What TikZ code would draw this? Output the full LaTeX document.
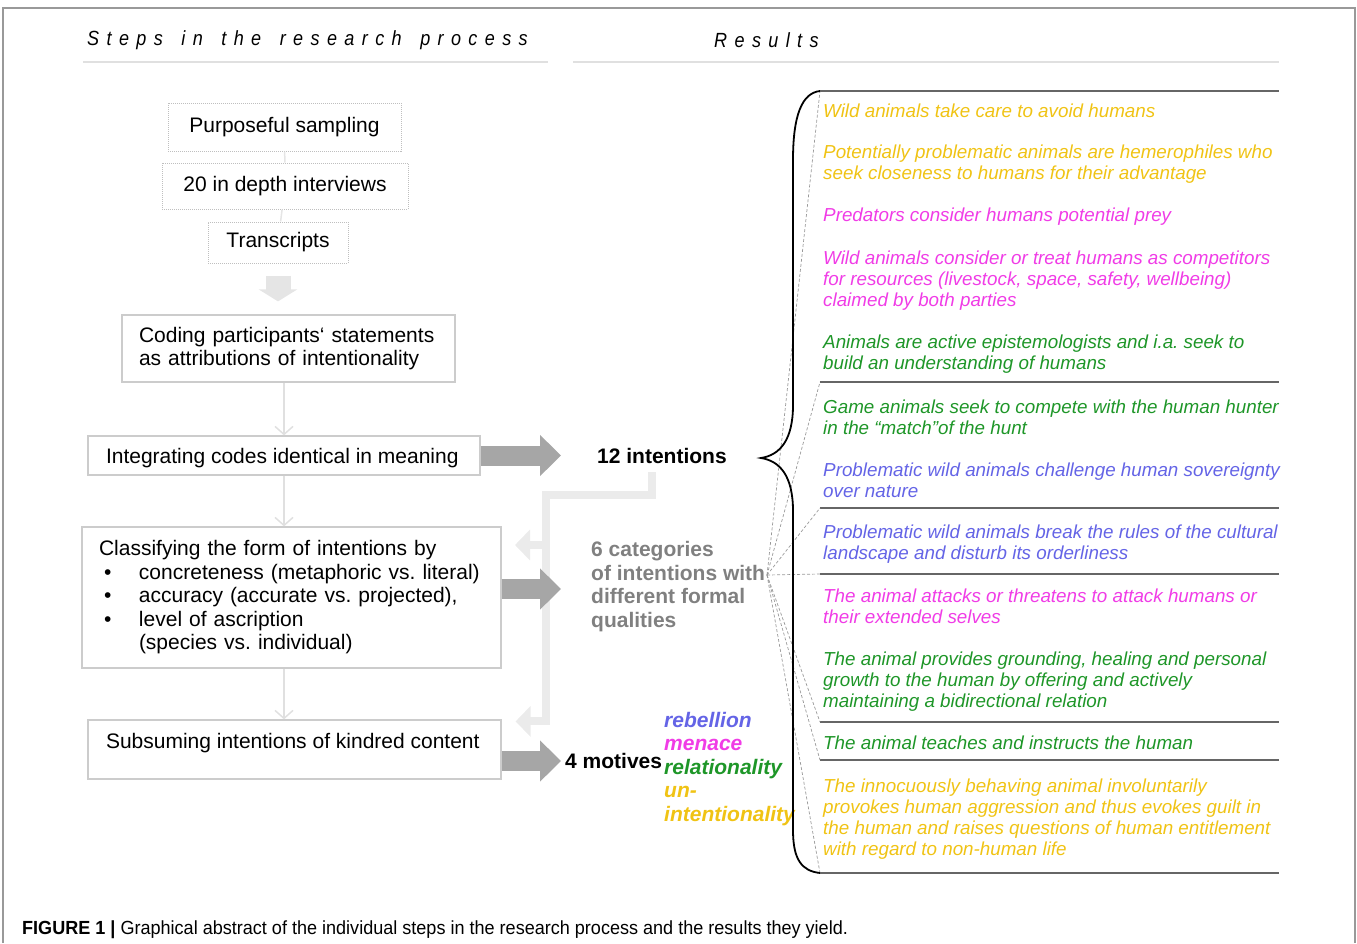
\documentclass[tikz,border=0pt]{standalone}
\usepackage{fontspec}
\setmainfont{Liberation Sans}
\newfontfamily\headfont[FakeStretch=0.88,LetterSpace=36,WordSpace=1.5]{Liberation Sans}
\newfontfamily\capfont[FakeStretch=0.95]{Liberation Sans}
\usetikzlibrary{arrows.meta}

\definecolor{motivblue}{RGB}{100,100,230}
\definecolor{motivpink}{RGB}{240,60,230}
\definecolor{motivgreen}{RGB}{30,150,40}
\definecolor{motivgold}{RGB}{240,195,20}

\begin{document}
\frenchspacing
\begin{tikzpicture}[x=1pt, y=-1pt]

% Set the overall size of the figure
\useasboundingbox (0,0) rectangle (1357,943);

% Define styles for boxes and arrows
\tikzstyle{dotbox} = [draw=black!25, densely dotted, line width=1pt, inner sep=0pt, font=\fontsize{21}{23.5}\selectfont]
\tikzstyle{stepbox} = [draw=black!20, line width=1.2pt, align=left, inner xsep=17pt, font=\fontsize{21}{23.5}\selectfont]
\tikzstyle{bigarrow} = [draw=black!35, line width=20pt, -{Triangle[length=21pt, width=40pt]}]
\tikzstyle{lightarrow} = [draw=black!10, line width=25pt, -{Triangle[length=12pt, width=38pt]}]
\tikzstyle{thinarrow} = [draw=black!12, line width=1.5pt, -{Straight Barb[length=8pt, width=18pt]}]
\tikzstyle{feedback} = [draw=black!8, line width=8pt]

% Define styles for the texts of the results
\tikzstyle{midtext} = [anchor=west, align=left, inner sep=0pt, font=\fontsize{21}{23.5}\selectfont\bfseries]
\tikzstyle{resulttext} = [anchor=west, align=left, inner sep=0pt, font=\fontsize{18.8}{21}\selectfont\itshape]
\tikzstyle{sepline} = [draw=black!60, line width=2pt]
\tikzstyle{fanline} = [draw=black!40, line width=0.7pt, dash pattern=on 3pt off 2pt]

% Frame and headings
\draw[black!40, line width=1.5pt] (3,943) -- (3,8) -- (1355,8) -- (1355,943);
\node[anchor=west, inner sep=0pt, font=\headfont\itshape\fontsize{20.5}{24}\selectfont] (stepshead) at (87,40) {Steps in the research process};
\node[anchor=west, inner sep=0pt, font=\headfont\itshape\fontsize{20.5}{24}\selectfont] (resultshead) at (714,40) {Results};
\draw[black!12, line width=1.5pt] (83,62) -- (548,62);
\draw[black!12, line width=1.5pt] (573,62) -- (1279,62);

% Steps
\node[dotbox, minimum width=233pt, minimum height=48pt] (sampling) at (284.5,127) {Purposeful sampling};
\node[dotbox, minimum width=246pt, minimum height=46pt] (interviews) at (285,186) {20 in depth interviews};
\node[dotbox, minimum width=140pt, minimum height=41pt] (transcripts) at (278,242.5) {Transcripts};
\node[stepbox, text width=299pt, minimum height=67pt] (coding) at (288.5,348.5) {Coding participants‘ statements\\as attributions of intentionality};
\node[stepbox, inner xsep=18pt, inner ysep=10pt, text height=17pt, text depth=2pt] (integrating) at (284,455.5) {\makebox[356pt][l]{Integrating codes identical in meaning}};
\node[stepbox, text width=385pt, minimum height=141pt] (classifying) at (291.5,597.5) {Classifying the form of intentions by\\
  \makebox[40pt][l]{\hspace{5pt}\textbullet}concreteness (metaphoric vs. literal)\\
  \makebox[40pt][l]{\hspace{5pt}\textbullet}accuracy (accurate vs. projected),\\
  \makebox[40pt][l]{\hspace{5pt}\textbullet}level of ascription\\
  \hspace*{40pt}(species vs. individual)};
\node[stepbox, inner xsep=18pt, inner ysep=7pt, text height=21pt, text depth=24pt] (subsuming) at (294.5,749.5) {\makebox[377pt][l]{Subsuming intentions of kindred content}};

% Results in the middle
\node[midtext] (twelve) at (597,456) {12 intentions};
\node[midtext, text=black!50] (sixcat) at (591,586.5) {6 categories\\of intentions with\\different formal\\qualities};
\node[midtext] (motives) at (565,761) {4 motives};
\node[midtext, font=\fontsize{21}{23.5}\selectfont\bfseries\itshape] (motivewords) at (664,769) {\textcolor{motivblue}{rebellion}\\\textcolor{motivpink}{menace}\\\textcolor{motivgreen}{relationality}\\\textcolor{motivgold}{un-}\\\textcolor{motivgold}{intentionality}};

% Feedback from the results to the steps
\coordinate (fbturn) at (546,495);
\coordinate (fbfork) at (546,545);
\draw[feedback, -{Triangle[length=15pt, width=30pt]}] ([xshift=-10pt, yshift=-8pt]twelve.south) |- (fbturn) |- ([xshift=14pt, yshift=-2pt]subsuming.north east);
\draw[feedback, -{Triangle[length=15pt, width=30pt]}] (fbfork) -- +(-31,0);

% Arrows between the steps
\draw[black!10, line width=1.5pt] (sampling) -- (interviews);
\draw[black!10, line width=1.5pt] (interviews) -- (transcripts);
\draw[lightarrow, shorten <=12pt, shorten >=13pt] (transcripts.south) -- (transcripts.south |- coding.north);
\draw[thinarrow] (integrating.north |- coding.south) -- (integrating.north);
\draw[thinarrow] (integrating.south) -- (integrating.south |- classifying.north);
\draw[thinarrow] (integrating.south |- classifying.south) -- (integrating.south |- subsuming.north);
\draw[bigarrow, shorten >=36pt] (integrating.east) -- (integrating.east -| twelve.west);
\draw[bigarrow, shorten >=30pt] (classifying.east |- 0,589) -- (sixcat.west |- 0,589);
\draw[bigarrow, shorten >=4pt] (subsuming.east |- motives.west) -- (motives.west);

% Separators of the categories and the fan from "6 categories"
\coordinate (fanhub) at (767,575);
\foreach \y [count=\i] in {91,382,508,574,722,760,873}{
  \coordinate (sep\i) at (820,\y);
  \coordinate (sepend\i) at (1279,\y);
  \draw[sepline] (sep\i) -- (sepend\i);
  \draw[fanline] (fanhub) -- (sep\i);
}

% Brace from the 12 intentions
\coordinate (bracetip) at (761,458);
\draw[line width=1.8pt] (sep1) .. controls (802,93) and (793,115) .. (793,160) -- (793,405) .. controls (793,440) and (780,455) .. (bracetip) .. controls (780,461) and (793,476) .. (793,511) -- (793,830) .. controls (793,860) and (802,871) .. (sep7);

% The twelve intentions
\node[resulttext, text=motivgold] (avoid) at (823,110.5) {Wild animals take care to avoid humans};
\node[resulttext, text=motivgold] (hemero) at (823,164.5) {Potentially problematic animals are hemerophiles who\\seek closeness to humans for their advantage};
\node[resulttext, text=motivpink] (prey) at (823,217) {Predators consider humans potential prey};
\node[resulttext, text=motivpink] (compet) at (823,280.5) {Wild animals consider or treat humans as competitors\\for resources (livestock, space, safety, wellbeing)\\claimed by both parties};
\node[resulttext, text=motivgreen] (episte) at (823,354) {Animals are active epistemologists and i.a. seek to\\build an understanding of humans};
\node[resulttext, text=motivgreen] (game) at (823,417) {Game animals seek to compete with the human hunter\\in the “match”of the hunt};
\node[resulttext, text=motivblue] (sovereign) at (823,480) {Problematic wild animals challenge human sovereignty\\over nature};
\node[resulttext, text=motivblue] (rules) at (823,544) {Problematic wild animals break the rules of the cultural\\landscape and disturb its orderliness};
\node[resulttext, text=motivpink] (attack) at (823,606) {The animal attacks or threatens to attack humans or\\their extended selves};
\node[resulttext, text=motivgreen] (ground) at (823,681.5) {The animal provides grounding, healing and personal\\growth to the human by offering and actively\\maintaining a bidirectional relation};
\node[resulttext, text=motivgreen] (teach) at (823,743) {The animal teaches and instructs the human};
\node[resulttext, text=motivgold] (innocuous) at (823,819) {The innocuously behaving animal involuntarily\\provokes human aggression and thus evokes guilt in\\the human and raises questions of human entitlement\\with regard to non-human life};

% Caption
\node[anchor=west, inner sep=0pt, font=\capfont\fontsize{19}{22}\selectfont] (caption) at (22,930) {\textbf{FIGURE 1 |} Graphical abstract of the individual steps in the research process and the results they yield.};

\end{tikzpicture}
\end{document}
